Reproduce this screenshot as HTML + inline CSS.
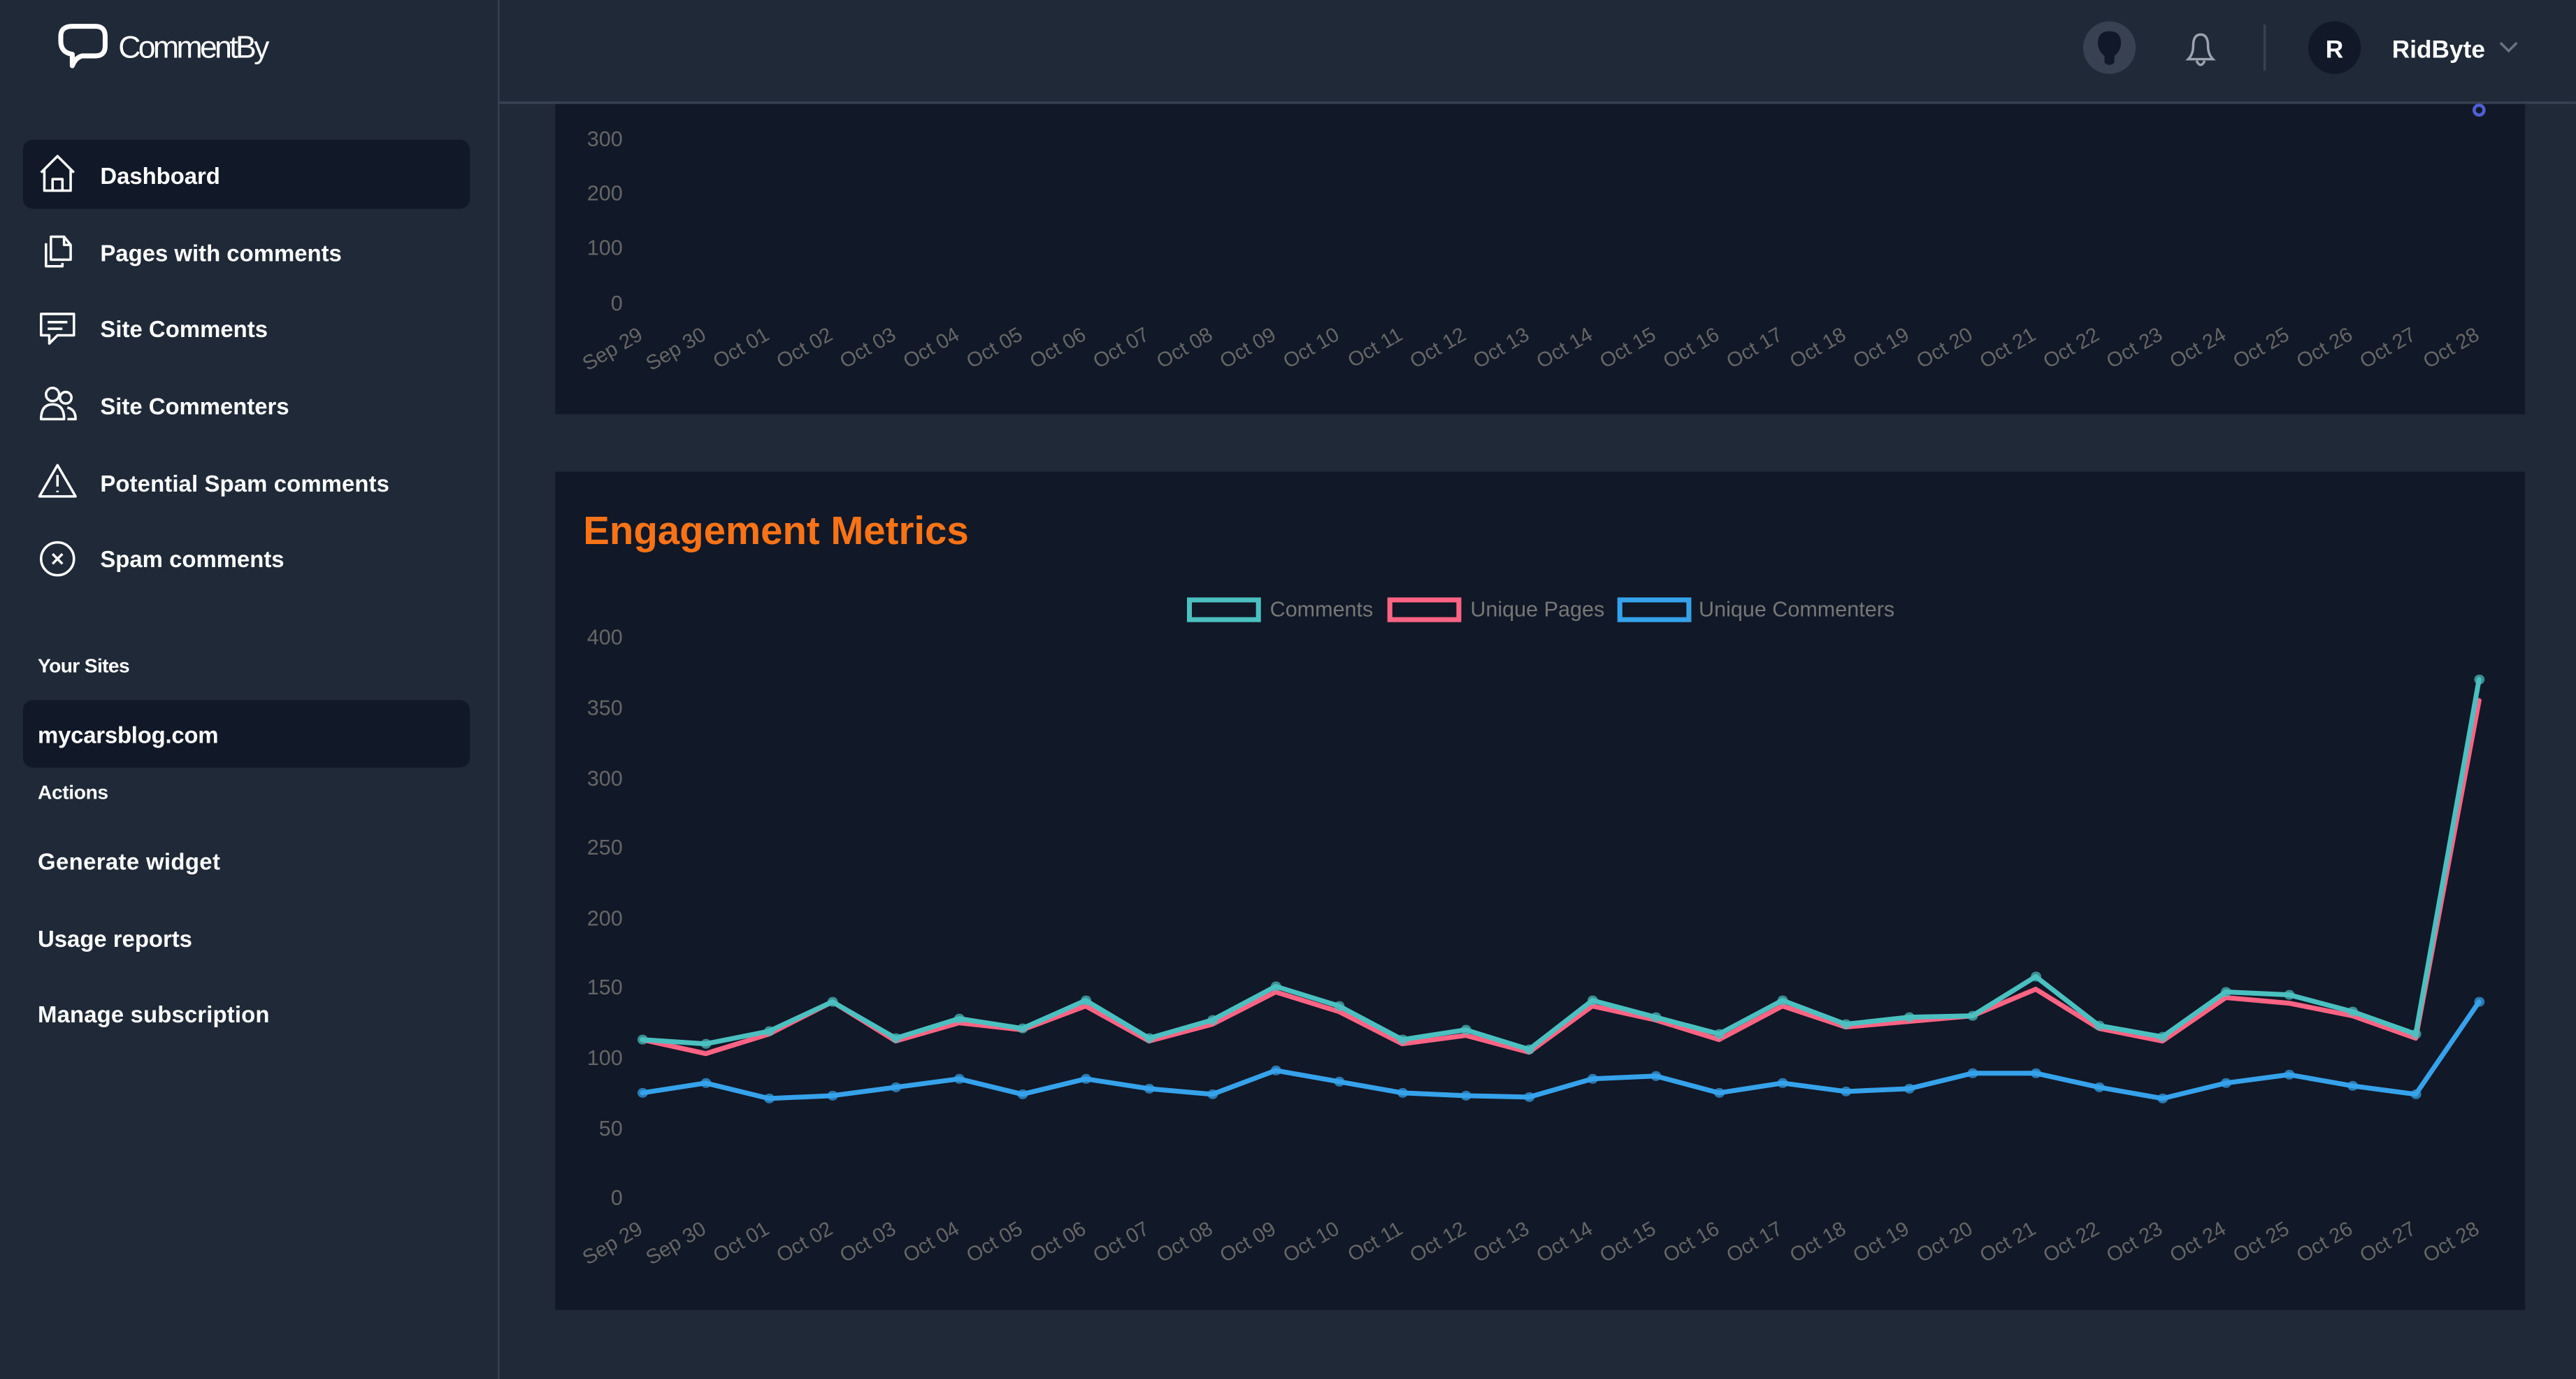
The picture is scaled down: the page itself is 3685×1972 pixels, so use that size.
<!DOCTYPE html>
<html><head><meta charset="utf-8"><style>
html,body{margin:0;padding:0;background:#1f2937;overflow:hidden}
svg{display:block}
text{font-family:"Liberation Sans",sans-serif}
</style></head><body>
<svg width="3685" height="1972" viewBox="0 0 1568 839" preserveAspectRatio="none" xmlns="http://www.w3.org/2000/svg">
<rect width="1568" height="839" fill="#1f2937"/>
<rect x="338" y="40" width="1199" height="212" fill="#111827"/>
<rect x="338" y="287" width="1199" height="510" fill="#111827"/>
<rect x="304" y="0" width="1264" height="62" fill="#1f2937"/>
<line x1="304" y1="62.5" x2="1568" y2="62.5" stroke="#374151" stroke-width="1.5"/>
<rect x="0" y="0" width="303" height="839" fill="#1f2937"/>
<line x1="303.5" y1="0" x2="303.5" y2="839" stroke="#374151" stroke-width="1"/>
<path d="M44,40 L44,33 Q37,32 37,25 L37,22 Q37,16 44,16 L58,16 Q64,16 64,22 L64,28 Q64,34 58,34 L50,34 Q46,35 44,40 Z" fill="none" stroke="#fff" stroke-width="3" stroke-linejoin="round"/>
<text x="72" y="35" fill="#fff" font-size="19" font-weight="300" textLength="92">CommentBy</text>
<rect x="14" y="85" width="272" height="42" rx="6" fill="#111827"/>
<g fill="none" stroke="#fff" stroke-width="1.5" stroke-linejoin="round">
<path d="M25,105 L35,95 L45,105 M27,103 L27,116 L43,116 L43,103 M32,116 L32,109 L38,109 L38,116"/>
<path d="M28,148 L28,162 L38,162 L38,160 M31,145 L31,158 L43,158 L43,149 L39,144 L31,144 Z M39,144 L39,149 L43,149"/>
<path d="M25,191 L45,191 L45,204 L35,204 L30,209 L30,204 L25,204 Z M29,196 L41,196 M29,200 L38,200"/>
<circle cx="32" cy="240" r="4"/><path d="M25,255 Q25,246 32,246 Q39,246 39,255 Z"/><circle cx="40" cy="242" r="3.5"/><path d="M41,248 Q46,249 46,255 L41,255"/>
<path d="M35,283 L46,302 L24,302 Z M35,289 L35,296 M35,298.5 L35,299.5"/>
<circle cx="35" cy="340" r="10"/><path d="M32,337 L38,343 M38,337 L32,343"/>
</g>
<g fill="#fff" font-size="14" font-weight="bold">
<text x="61" y="112" textLength="73">Dashboard</text>
<text x="61" y="159" textLength="147">Pages with comments</text>
<text x="61" y="205" textLength="102">Site Comments</text>
<text x="61" y="252" textLength="115">Site Commenters</text>
<text x="61" y="299" textLength="176">Potential Spam comments</text>
<text x="61" y="345" textLength="112">Spam comments</text>
<text x="23" y="409" font-size="12" textLength="56">Your Sites</text>
<rect x="14" y="426" width="272" height="41" rx="6" fill="#111827"/>
<text x="23" y="452" textLength="110">mycarsblog.com</text>
<text x="23" y="486" font-size="12" textLength="43">Actions</text>
<text x="23" y="529" textLength="111">Generate widget</text>
<text x="23" y="576" textLength="94">Usage reports</text>
<text x="23" y="622" textLength="141">Manage subscription</text>
</g>
<ellipse cx="1284" cy="29" rx="16" ry="16" fill="#374151"/>
<path d="M1284,19 Q1277,19 1277,26 Q1277,31 1281,34 L1281,38 Q1284,41 1287,38 L1287,34 Q1291,31 1291,26 Q1291,19 1284,19 Z" fill="#111827"/>
<path d="M1332,36 L1347,36 Q1344,33 1344,28 Q1344,21 1339.5,21 Q1335,21 1335,28 Q1335,33 1332,36 Z M1337,37 Q1339.5,42 1342,37" fill="none" stroke="#9ca3af" stroke-width="1.5"/>
<line x1="1378.5" y1="15" x2="1378.5" y2="43" stroke="#374151" stroke-width="1.5"/>
<circle cx="1421" cy="29" r="16" fill="#111827"/>
<text x="1421" y="35" fill="#fff" font-size="15" font-weight="bold" text-anchor="middle">R</text>
<text x="1456" y="35" fill="#fff" font-size="15" font-weight="bold">RidByte</text>
<path d="M1522,26 L1527,31 L1532,26" fill="none" stroke="#6b7280" stroke-width="1.5"/>
<g fill="#666" font-size="13" text-anchor="end">
<text x="379" y="89">300</text><text x="379" y="122">200</text><text x="379" y="155">100</text><text x="379" y="189">0</text>
</g>
<circle cx="1509" cy="67" r="3" fill="none" stroke="#4f5fd0" stroke-width="2"/>
<g fill="#666" font-size="12.5" text-anchor="end">
<text transform="translate(392,206) rotate(-30)">Sep 29</text><text transform="translate(430.6,206) rotate(-30)">Sep 30</text><text transform="translate(469.1,206) rotate(-30)">Oct 01</text><text transform="translate(507.7,206) rotate(-30)">Oct 02</text><text transform="translate(546.2,206) rotate(-30)">Oct 03</text><text transform="translate(584.8,206) rotate(-30)">Oct 04</text><text transform="translate(623.3,206) rotate(-30)">Oct 05</text><text transform="translate(661.9,206) rotate(-30)">Oct 06</text><text transform="translate(700.4,206) rotate(-30)">Oct 07</text><text transform="translate(739,206) rotate(-30)">Oct 08</text><text transform="translate(777.5,206) rotate(-30)">Oct 09</text><text transform="translate(816.1,206) rotate(-30)">Oct 10</text><text transform="translate(854.6,206) rotate(-30)">Oct 11</text><text transform="translate(893.2,206) rotate(-30)">Oct 12</text><text transform="translate(931.7,206) rotate(-30)">Oct 13</text><text transform="translate(970.3,206) rotate(-30)">Oct 14</text><text transform="translate(1008.8,206) rotate(-30)">Oct 15</text><text transform="translate(1047.4,206) rotate(-30)">Oct 16</text><text transform="translate(1085.9,206) rotate(-30)">Oct 17</text><text transform="translate(1124.5,206) rotate(-30)">Oct 18</text><text transform="translate(1163,206) rotate(-30)">Oct 19</text><text transform="translate(1201.6,206) rotate(-30)">Oct 20</text><text transform="translate(1240.1,206) rotate(-30)">Oct 21</text><text transform="translate(1278.7,206) rotate(-30)">Oct 22</text><text transform="translate(1317.2,206) rotate(-30)">Oct 23</text><text transform="translate(1355.8,206) rotate(-30)">Oct 24</text><text transform="translate(1394.3,206) rotate(-30)">Oct 25</text><text transform="translate(1432.9,206) rotate(-30)">Oct 26</text><text transform="translate(1471.4,206) rotate(-30)">Oct 27</text><text transform="translate(1510,206) rotate(-30)">Oct 28</text>
</g>
<text x="355" y="331" fill="#f97316" font-size="24" font-weight="600">Engagement Metrics</text>
<g font-size="13" fill="#777">
<rect x="724" y="365" width="42" height="12" fill="#111827" stroke="#4bc0c0" stroke-width="3"/><text x="773" y="375">Comments</text>
<rect x="846" y="365" width="42" height="12" fill="#111827" stroke="#ff6384" stroke-width="3"/><text x="895" y="375">Unique Pages</text>
<rect x="986" y="365" width="42" height="12" fill="#111827" stroke="#36a2eb" stroke-width="3"/><text x="1034" y="375">Unique Commenters</text>
</g>
<g fill="#666" font-size="13" text-anchor="end">
<text x="379" y="392">400</text><text x="379" y="435">350</text><text x="379" y="478">300</text><text x="379" y="520">250</text><text x="379" y="563">200</text><text x="379" y="605">150</text><text x="379" y="648">100</text><text x="379" y="691">50</text><text x="379" y="733">0</text>
</g>
<g transform="translate(391,728) scale(38.5517,-0.8525)" fill="none" stroke-linejoin="round" stroke-linecap="round">
<polyline vector-effect="non-scaling-stroke" stroke="#ff6384" stroke-width="7" points="0,112 1,102 2,116 3,139 4,111 5,124 6,119 7,136 8,111 9,123 10,146 11,132 12,109 13,115 14,103 15,136 16,126 17,112 18,136 19,121 20,125 21,129 22,148 23,120 24,111 25,142 26,138 27,129 28,113 29,354"/>
<polyline vector-effect="non-scaling-stroke" stroke="#4bc0c0" stroke-width="7" points="0,112 1,109 2,118 3,139 4,113 5,127 6,120 7,140 8,113 9,126 10,150 11,136 12,112 13,119 14,105 15,140 16,128 17,116 18,140 19,123 20,128 21,129 22,157 23,122 24,114 25,146 26,144 27,132 28,116 29,369"/>
<polyline vector-effect="non-scaling-stroke" stroke="#36a2eb" stroke-width="7" points="0,74 1,81 2,70 3,72 4,78 5,84 6,73 7,84 8,77 9,73 10,90 11,82 12,74 13,72 14,71 15,84 16,86 17,74 18,81 19,75 20,77 21,88 22,88 23,78 24,70 25,81 26,87 27,79 28,73 29,139"/>
<path vector-effect="non-scaling-stroke" stroke="#4bc0c0" stroke-width="14" stroke-opacity="0.7" d="M0,112h0.01M1,109h0.01M2,118h0.01M3,139h0.01M4,113h0.01M5,127h0.01M6,120h0.01M7,140h0.01M8,113h0.01M9,126h0.01M10,150h0.01M11,136h0.01M12,112h0.01M13,119h0.01M14,105h0.01M15,140h0.01M16,128h0.01M17,116h0.01M18,140h0.01M19,123h0.01M20,128h0.01M21,129h0.01M22,157h0.01M23,122h0.01M24,114h0.01M25,146h0.01M26,144h0.01M27,132h0.01M28,116h0.01M29,369h0.01"/>
<path vector-effect="non-scaling-stroke" stroke="#36a2eb" stroke-width="14" stroke-opacity="0.7" d="M0,74h0.01M1,81h0.01M2,70h0.01M3,72h0.01M4,78h0.01M5,84h0.01M6,73h0.01M7,84h0.01M8,77h0.01M9,73h0.01M10,90h0.01M11,82h0.01M12,74h0.01M13,72h0.01M14,71h0.01M15,84h0.01M16,86h0.01M17,74h0.01M18,81h0.01M19,75h0.01M20,77h0.01M21,88h0.01M22,88h0.01M23,78h0.01M24,70h0.01M25,81h0.01M26,87h0.01M27,79h0.01M28,73h0.01M29,139h0.01"/>
</g>
<g fill="#666" font-size="12.5" text-anchor="end">
<text transform="translate(392,750) rotate(-30)">Sep 29</text><text transform="translate(430.6,750) rotate(-30)">Sep 30</text><text transform="translate(469.1,750) rotate(-30)">Oct 01</text><text transform="translate(507.7,750) rotate(-30)">Oct 02</text><text transform="translate(546.2,750) rotate(-30)">Oct 03</text><text transform="translate(584.8,750) rotate(-30)">Oct 04</text><text transform="translate(623.3,750) rotate(-30)">Oct 05</text><text transform="translate(661.9,750) rotate(-30)">Oct 06</text><text transform="translate(700.4,750) rotate(-30)">Oct 07</text><text transform="translate(739,750) rotate(-30)">Oct 08</text><text transform="translate(777.5,750) rotate(-30)">Oct 09</text><text transform="translate(816.1,750) rotate(-30)">Oct 10</text><text transform="translate(854.6,750) rotate(-30)">Oct 11</text><text transform="translate(893.2,750) rotate(-30)">Oct 12</text><text transform="translate(931.7,750) rotate(-30)">Oct 13</text><text transform="translate(970.3,750) rotate(-30)">Oct 14</text><text transform="translate(1008.8,750) rotate(-30)">Oct 15</text><text transform="translate(1047.4,750) rotate(-30)">Oct 16</text><text transform="translate(1085.9,750) rotate(-30)">Oct 17</text><text transform="translate(1124.5,750) rotate(-30)">Oct 18</text><text transform="translate(1163,750) rotate(-30)">Oct 19</text><text transform="translate(1201.6,750) rotate(-30)">Oct 20</text><text transform="translate(1240.1,750) rotate(-30)">Oct 21</text><text transform="translate(1278.7,750) rotate(-30)">Oct 22</text><text transform="translate(1317.2,750) rotate(-30)">Oct 23</text><text transform="translate(1355.8,750) rotate(-30)">Oct 24</text><text transform="translate(1394.3,750) rotate(-30)">Oct 25</text><text transform="translate(1432.9,750) rotate(-30)">Oct 26</text><text transform="translate(1471.4,750) rotate(-30)">Oct 27</text><text transform="translate(1510,750) rotate(-30)">Oct 28</text>
</g>
</svg>
</body></html>
